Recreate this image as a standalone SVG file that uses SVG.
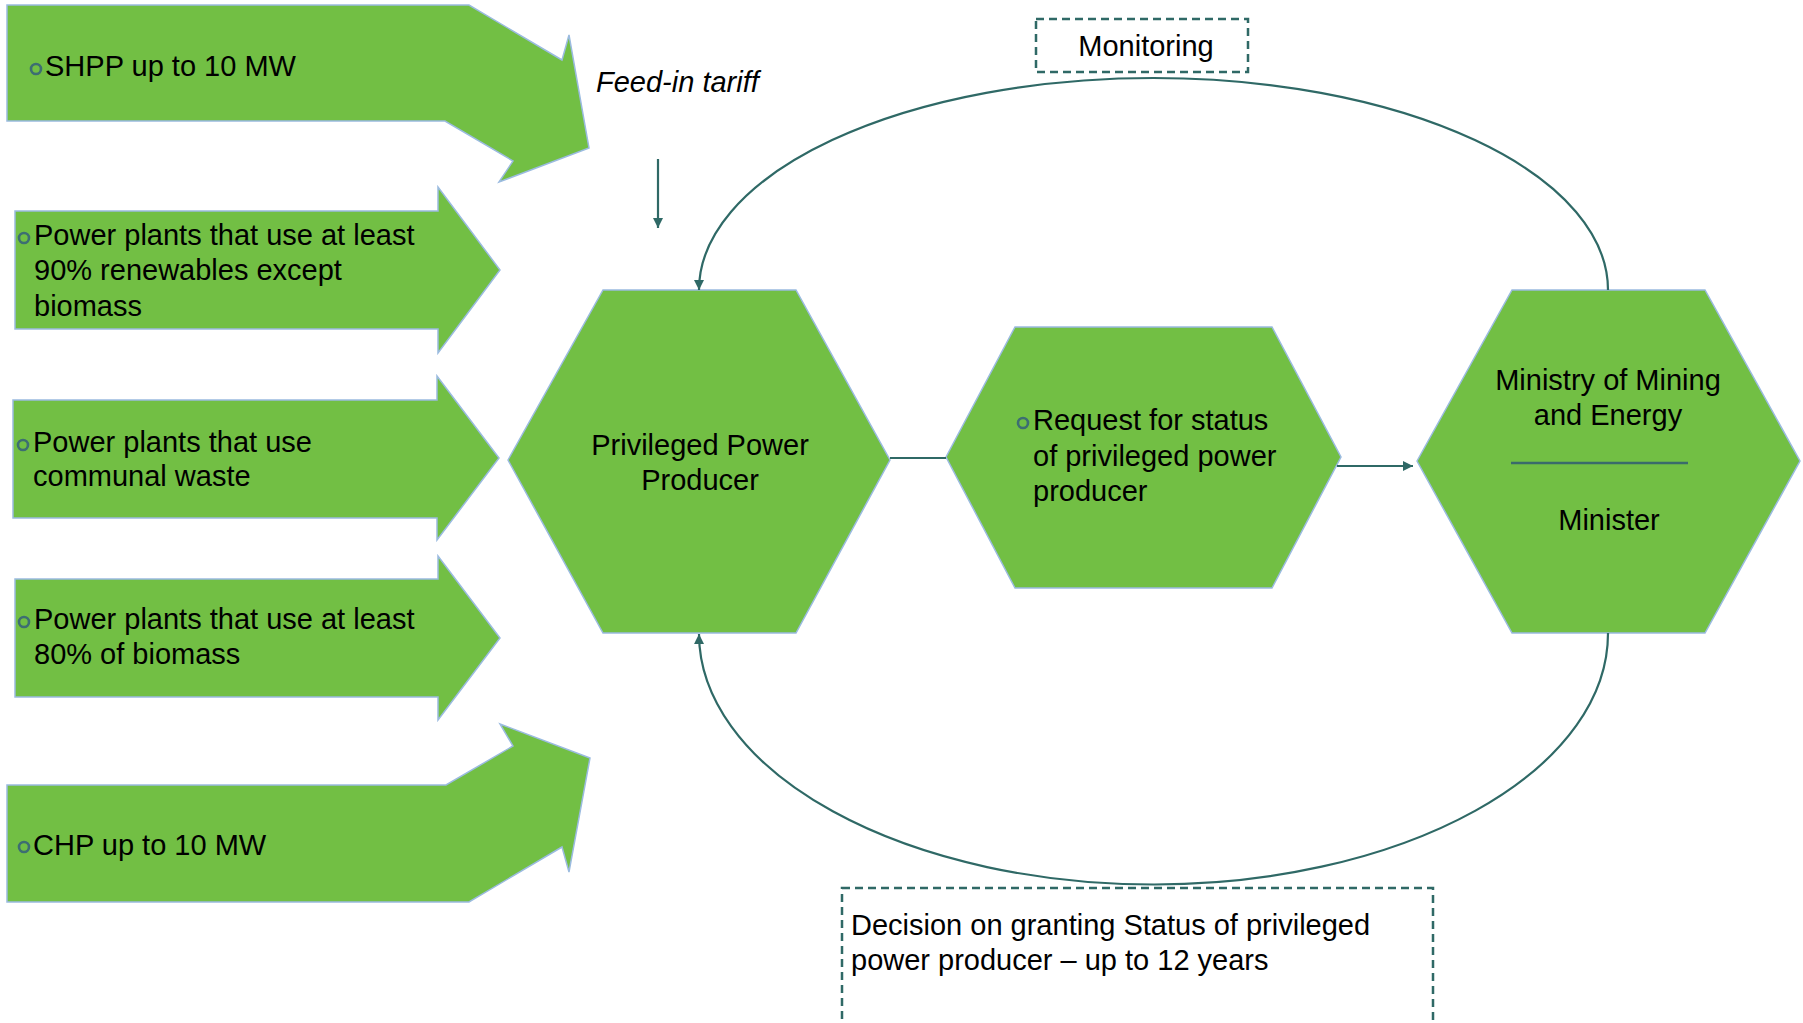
<svg xmlns="http://www.w3.org/2000/svg" width="1803" height="1023" viewBox="0 0 1803 1023">
<defs>
<style>
.shape{fill:#72BF44;stroke:#9BBBE0;stroke-width:1.5;stroke-linejoin:miter}
.t{font-family:"Liberation Sans",Arial,sans-serif;font-size:29px;fill:#000}
.c{text-anchor:middle}
.it{font-style:italic}
.bul{fill:none;stroke:#3D6E72;stroke-width:2.6}
.conn{fill:none;stroke:#2F6966;stroke-width:2.2}
.dash{fill:none;stroke:#2F6966;stroke-width:2.5;stroke-dasharray:8 5}
</style>
<marker id="ah" viewBox="0 0 10 10" refX="10" refY="5" markerWidth="10" markerHeight="10" markerUnits="userSpaceOnUse" orient="auto"><path d="M0,0 L10,5 L0,10 z" fill="#2F6966"/></marker>
</defs>
<rect width="1803" height="1023" fill="#ffffff"/>

<g id="arrow-shpp">
<polygon class="shape" points="7,5 469,5 562,60 569,35 589,148 499,182 513,161 445,121 7,121"/>
<circle class="bul" cx="36" cy="69" r="5"/>
<text class="t" x="45" y="76">SHPP up to 10 MW</text>
</g>

<g id="arrow-renewables">
<polygon class="shape" points="15,211 438,211 438,187 500,270 438,353 438,329 15,329"/>
<circle class="bul" cx="24" cy="238" r="5"/>
<text class="t" x="34" y="245">Power plants that use at least</text>
<text class="t" x="34" y="280">90% renewables except</text>
<text class="t" x="34" y="316">biomass</text>
</g>

<g id="arrow-waste">
<polygon class="shape" points="13,400 437,400 437,376 499,458 437,540 437,518 13,518"/>
<circle class="bul" cx="23" cy="445" r="5"/>
<text class="t" x="33" y="452">Power plants that use</text>
<text class="t" x="33" y="486">communal waste</text>
</g>

<g id="arrow-biomass">
<polygon class="shape" points="15,579 438,579 438,556 500,638 438,720 438,697 15,697"/>
<circle class="bul" cx="24" cy="622" r="5"/>
<text class="t" x="34" y="629">Power plants that use at least</text>
<text class="t" x="34" y="664">80% of biomass</text>
</g>

<g id="arrow-chp">
<polygon class="shape" points="7,785 446,785 513,746 500,724 590,758 569,872 562,847 469,902 7,902"/>
<circle class="bul" cx="24" cy="847" r="5"/>
<text class="t" x="33" y="855">CHP up to 10 MW</text>
</g>

<g id="hex-producer">
<polygon class="shape" points="508,460 603,290 796,290 890,460 796,633 603,633"/>
<text class="t c" x="700" y="455">Privileged Power</text>
<text class="t c" x="700" y="490">Producer</text>
</g>

<g id="hex-request">
<polygon class="shape" points="946,457 1015,327 1272,327 1341,457 1272,588 1015,588"/>
<circle class="bul" cx="1023" cy="423" r="5"/>
<text class="t" x="1033" y="430">Request for status</text>
<text class="t" x="1033" y="466">of privileged power</text>
<text class="t" x="1033" y="501">producer</text>
</g>

<g id="hex-ministry">
<polygon class="shape" points="1417,461 1512,290 1705,290 1800,461 1705,633 1512,633"/>
<text class="t c" x="1608" y="390">Ministry of Mining</text>
<text class="t c" x="1608" y="425">and Energy</text>
<line x1="1511" y1="463" x2="1688" y2="463" stroke="#3A6B6B" stroke-width="2.5"/>
<text class="t c" x="1609" y="530">Minister</text>
</g>

<g id="label-feedin">
<text class="t it" x="596" y="92">Feed-in tariff</text>
</g>

<g id="box-monitoring">
<rect class="dash" x="1036" y="19" width="212" height="53"/>
<text class="t c" x="1146" y="56">Monitoring</text>
</g>

<g id="box-decision">
<rect class="dash" x="842" y="888" width="591" height="170"/>
<text class="t" x="851" y="935">Decision on granting Status of privileged</text>
<text class="t" x="851" y="970">power producer – up to 12 years</text>
</g>

<g id="connectors">
<line class="conn" x1="658" y1="159" x2="658" y2="228" marker-end="url(#ah)"/>
<line class="conn" x1="890" y1="458" x2="946" y2="458"/>
<line class="conn" x1="1337" y1="466" x2="1413" y2="466" marker-end="url(#ah)"/>
<path class="conn" d="M1608,290 A454.5,212 0 0 0 699,290" marker-end="url(#ah)"/>
<path class="conn" d="M1608,633 A454.5,251 0 0 1 699,634" marker-end="url(#ah)"/>
</g>
</svg>
